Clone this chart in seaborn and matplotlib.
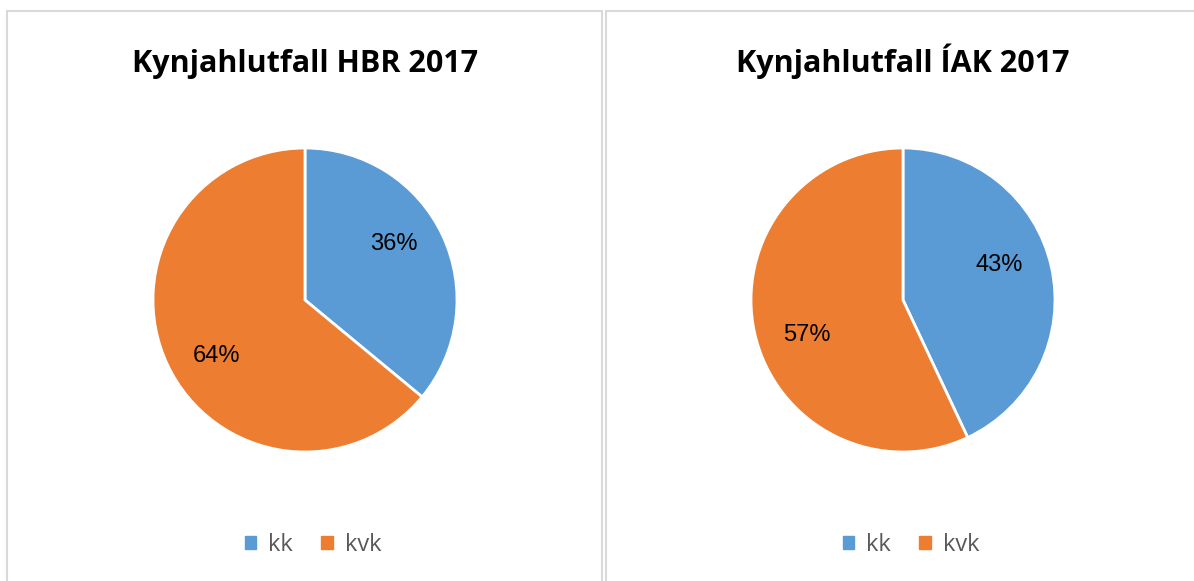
import matplotlib
matplotlib.use("Agg")
import matplotlib.pyplot as plt
from matplotlib.patches import Rectangle, Patch
import seaborn as sns

# data
titles = ["Kynjahlutfall HBR 2017", "Kynjahlutfall ÍAK 2017"]
labels = ["kk", "kvk"]
hbr_values = [36, 64]
iak_values = [43, 57]

sns.set_theme(style="white")
plt.rcParams['font.family'] = ['Liberation Sans', 'DejaVu Sans']

colors = ["#5B9BD5", "#ED7D31"]
W, H = 1194, 581

fig = plt.figure(figsize=(W / 100, H / 100), dpi=100)
fig.patch.set_facecolor("white")

# panel borders (pixel coords from top-left)
for x0, x1 in [(7, 602), (606, 1200)]:
    fig.patches.append(Rectangle((x0 / W, -0.01), (x1 - x0) / W, 1.01 - 11 / H,
                                 transform=fig.transFigure, fill=False,
                                 edgecolor="#D9D9D9", linewidth=1.5))

centers = [305, 903]
radius = 152
for cx, title, vals in zip(centers, titles, [hbr_values, iak_values]):
    ax = fig.add_axes([(cx - radius) / W, 1 - (300 + radius) / H,
                       2 * radius / W, 2 * radius / H])
    _, _, pcts = ax.pie(vals, colors=colors, startangle=90, counterclock=False,
                        autopct=lambda p: f"{p:.0f}%", pctdistance=0.68,
                        wedgeprops=dict(edgecolor="white", linewidth=2),
                        textprops=dict(fontsize=17, color="#000000"))
    # Excel-style label placement sits a bit further from the horizontal
    for t in pcts:
        x, y = t.get_position()
        t.set_position((x * 0.95, y + (0.08 if y > 0 else -0.08)))
    ax.set_xlim(-1, 1)
    ax.set_ylim(-1, 1)
    ax.axis("off")

    fig.text(cx / W, 1 - 72 / H, title, ha="center", va="baseline", color="black",
             fontsize=22, fontweight="bold", family=["Open Sans", "DejaVu Sans"])

    handles = [Patch(facecolor=c, edgecolor=c) for c in colors]
    fig.legend(handles, labels, loc="center", bbox_to_anchor=((cx + 8) / W, 1 - 545 / H),
               ncol=2, frameon=False, handlelength=0.5, handleheight=0.5,
               handletextpad=0.5, columnspacing=1.2,
               labelcolor="#595959", prop=dict(family=["Open Sans", "DejaVu Sans"], size=17))

fig.savefig("out.png", dpi=100)
